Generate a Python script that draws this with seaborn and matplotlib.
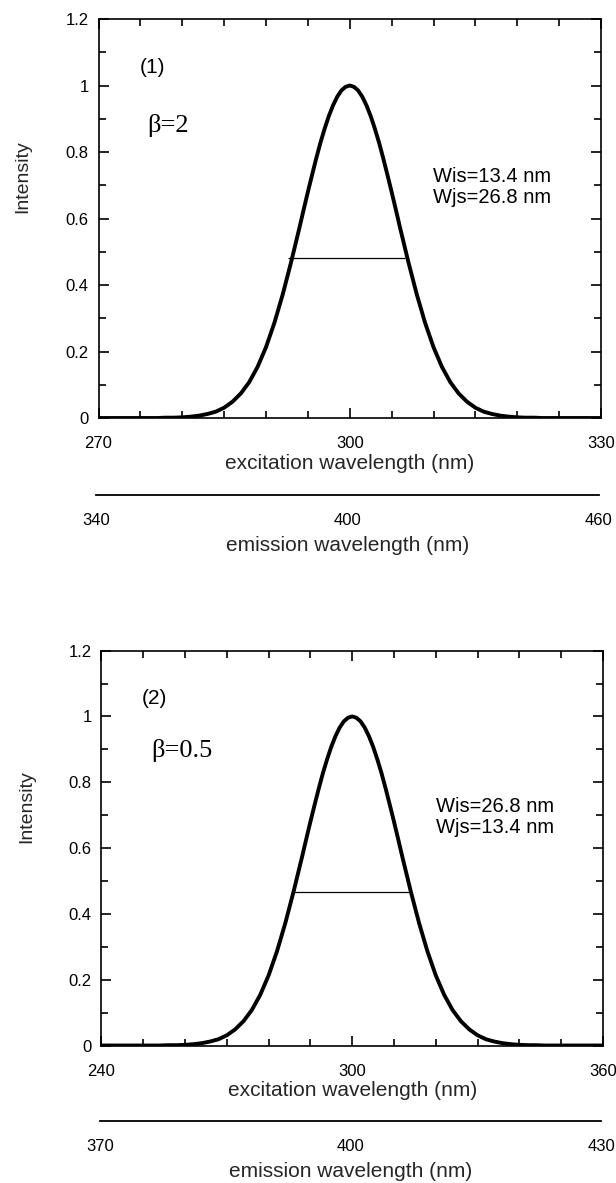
import matplotlib
matplotlib.use("Agg")
import matplotlib.pyplot as plt
import seaborn as sns
import pandas as pd
from matplotlib.ticker import MultipleLocator, FixedLocator

# ---------------- data ----------------
# panel (1): beta = 2, excitation 270..330 nm (finer sampling near the peak)
ex1 = list(range(270, 294)) + [293.5 + 0.5 * k for k in range(27)] + list(range(307, 331))
int1 = [0, 0, 0, 0, 0, 0, 0, 0, 0.001, 0.001, 0.002, 0.004, 0.007, 0.012, 0.019,
        0.031, 0.049, 0.074, 0.108, 0.154, 0.213, 0.286, 0.372, 0.469,
        0.521, 0.573, 0.627, 0.680, 0.731, 0.781, 0.828, 0.870, 0.908, 0.940,
        0.966, 0.985, 0.996,
        1.0,
        0.996, 0.985, 0.966, 0.940, 0.908, 0.870, 0.828, 0.781, 0.731, 0.680,
        0.627, 0.573, 0.521,
        0.469, 0.372, 0.286, 0.213, 0.154, 0.108, 0.074, 0.049, 0.031, 0.019,
        0.012, 0.007, 0.004, 0.002, 0.001, 0.001, 0, 0, 0, 0, 0, 0, 0, 0]
half1_x = [292.6, 306.6]
half1_y = 0.48

# panel (2): beta = 0.5, excitation 240..360 nm
ex2 = list(range(240, 288, 2)) + [287 + k for k in range(27)] + list(range(314, 361, 2))
int2 = [0, 0, 0, 0, 0, 0, 0, 0, 0.001, 0.001, 0.002, 0.004, 0.007, 0.012, 0.019,
        0.031, 0.049, 0.074, 0.108, 0.154, 0.213, 0.286, 0.372, 0.469,
        0.521, 0.573, 0.627, 0.680, 0.731, 0.781, 0.828, 0.870, 0.908, 0.940,
        0.966, 0.985, 0.996,
        1.0,
        0.996, 0.985, 0.966, 0.940, 0.908, 0.870, 0.828, 0.781, 0.731, 0.680,
        0.627, 0.573, 0.521,
        0.469, 0.372, 0.286, 0.213, 0.154, 0.108, 0.074, 0.049, 0.031, 0.019,
        0.012, 0.007, 0.004, 0.002, 0.001, 0.001, 0, 0, 0, 0, 0, 0, 0, 0]
half2_x = [285.8, 313.8]
half2_y = 0.467

ex1_ticks = [270, 300, 330]
em1_ticks = [340, 400, 460]
ex2_ticks = [240, 300, 360]
em2_ticks = [370, 400, 430]
y_ticks = [0, 0.2, 0.4, 0.6, 0.8, 1.0, 1.2]
y_ticklabels = ["0", "0.2", "0.4", "0.6", "0.8", "1", "1.2"]

panel_labels = ["(1)", "(2)"]
beta_labels = ["β=2", "β=0.5"]
width_labels = [["Wis=13.4 nm", "Wjs=26.8 nm"], ["Wis=26.8 nm", "Wjs=13.4 nm"]]

# ---------------- style ----------------
sns.set_theme(style="ticks")
plt.rcParams['font.family'] = ['Liberation Sans', 'DejaVu Sans']
plt.rcParams['axes.linewidth'] = 1.2
plt.rcParams['axes.edgecolor'] = 'black'
plt.rcParams['text.color'] = 'black'
plt.rcParams['xtick.color'] = 'black'
plt.rcParams['ytick.color'] = 'black'

W, H = 616, 1183
fig = plt.figure(figsize=(W / 100, H / 100), dpi=100)
fig.patch.set_facecolor('white')


def px_axes(l, r, t, b):
    return [l / W, 1 - b / H, (r - l) / W, (b - t) / H]


panels = [
    dict(box=(98.5, 601, 19, 418), ex=ex1, y=int1, hx=half1_x, hy=half1_y,
         xlim=(270, 330), ticks=ex1_ticks, minor=5, em_ticks=em1_ticks,
         em_box=(96, 599, 494.6), lab_xy=(276.5, 1.054), beta_xy=(275.8, 0.88),
         w_xy=(309.9, 0.727, 0.664), ylab=(-0.134, 0.604)),
    dict(box=(101.4, 603, 650.6, 1045.5), ex=ex2, y=int2, hx=half2_x, hy=half2_y,
         xlim=(240, 360), ticks=ex2_ticks, minor=10, em_ticks=em2_ticks,
         em_box=(100, 601, 1121), lab_xy=(252.8, 1.053), beta_xy=(251.9, 0.896),
         w_xy=(320.0, 0.725, 0.661), ylab=(-0.131, 0.606)),
]

for i, p in enumerate(panels):
    ax = fig.add_axes(px_axes(*p['box']))
    df = pd.DataFrame({'x': p['ex'], 'y': p['y']})
    sns.lineplot(data=df, x='x', y='y', ax=ax, color='black', linewidth=2.8)
    ax.hlines(p['hy'], p['hx'][0], p['hx'][1], color='black', linewidth=0.9)

    ax.set_xlim(*p['xlim'])
    ax.set_ylim(0, 1.2)
    ax.xaxis.set_major_locator(FixedLocator(p['ticks']))
    ax.xaxis.set_minor_locator(MultipleLocator(p['minor']))
    ax.yaxis.set_major_locator(FixedLocator(y_ticks))
    ax.set_yticklabels(y_ticklabels)
    ax.yaxis.set_minor_locator(MultipleLocator(0.1))
    ax.tick_params(which='both', direction='in', top=True, right=True,
                   width=1.2, colors='black')
    ax.tick_params(which='major', length=7)
    ax.tick_params(which='minor', length=5)
    ax.tick_params(axis='x', which='major', labelsize=12, pad=13)
    ax.tick_params(axis='y', which='major', labelsize=12, pad=7)
    for s in ax.spines.values():
        s.set_visible(True)
        s.set_color('black')
    ax.set_xlabel("excitation wavelength (nm)", fontsize=15, labelpad=2)
    ax.set_ylabel("Intensity", fontsize=14)
    ax.yaxis.set_label_coords(*p['ylab'])

    ax.text(p['lab_xy'][0], p['lab_xy'][1], panel_labels[i], fontsize=15,
            ha='center', va='center')
    ax.text(p['beta_xy'][0], p['beta_xy'][1], beta_labels[i], fontsize=19,
            ha='left', va='center', family=['Liberation Serif', 'DejaVu Serif'])
    ax.text(p['w_xy'][0], p['w_xy'][1], width_labels[i][0], fontsize=14.5,
            ha='left', va='center')
    ax.text(p['w_xy'][0], p['w_xy'][2], width_labels[i][1], fontsize=14.5,
            ha='left', va='center')

    # emission wavelength scale below
    l, r, yline = p['em_box']
    em = fig.add_axes([l / W, 1 - yline / H, (r - l) / W, 0.0001])
    em.set_xlim(p['em_ticks'][0], p['em_ticks'][-1])
    em.set_xticks(p['em_ticks'])
    em.set_yticks([])
    for name, s in em.spines.items():
        s.set_visible(name == 'bottom')
    em.spines['bottom'].set_linewidth(1.3)
    em.patch.set_alpha(0)
    em.tick_params(axis='x', length=0, labelsize=12, pad=13)
    em.set_xlabel("emission wavelength (nm)", fontsize=15, labelpad=6)

fig.savefig("out.png", dpi=100, facecolor='white')
